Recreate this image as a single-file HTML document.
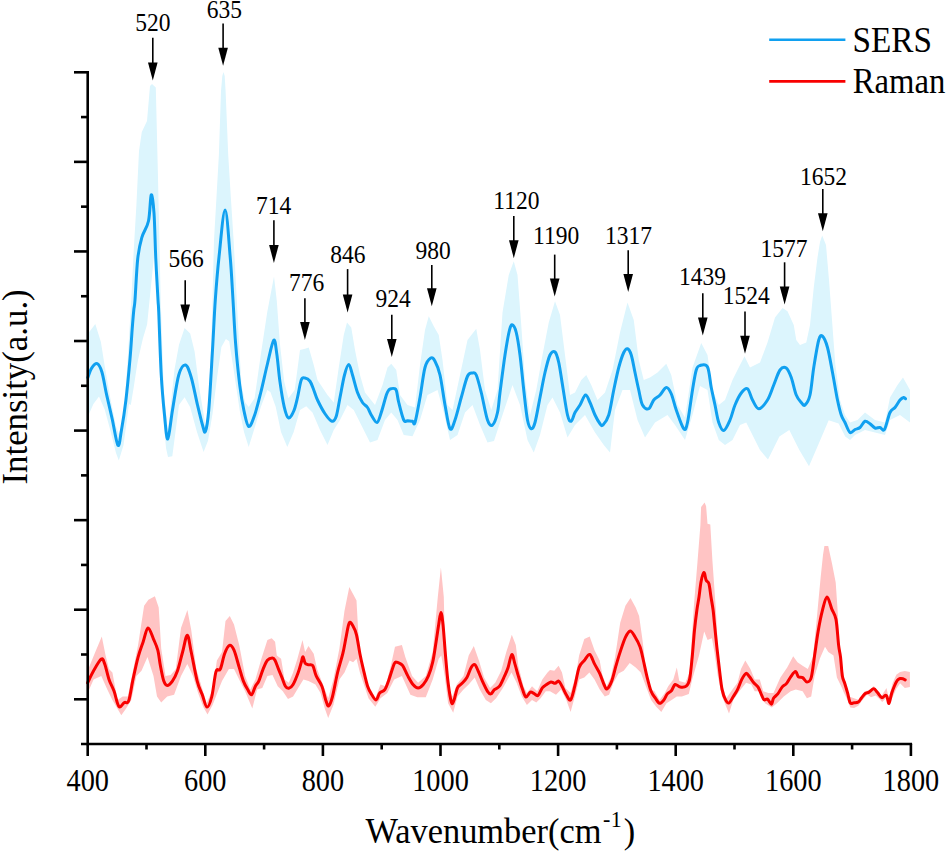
<!DOCTYPE html><html><head><meta charset="utf-8"><title>SERS vs Raman</title>
<style>html,body{margin:0;padding:0;background:#fff;width:948px;height:852px;overflow:hidden}svg{display:block}text{font-family:"Liberation Serif",serif;fill:#000}</style></head><body>
<svg width="948" height="852" viewBox="0 0 948 852">
<rect width="948" height="852" fill="#fff"/>
<path d="M87.7 334 L95.3 324 L100.9 342 L104.7 366 L110.3 398 L116 426.5 L118.8 434 L123.5 419 L127.5 362.5 L131.25 300 L133.75 250 L136.4 205 L139 151 L141.8 132 L147 121 L150 86 L152 84 L155.8 87.6 L158 178 L160.7 300 L163.75 390 L167.9 431.8 L174.5 369.3 L179 344.7 L184.6 328 L190.2 333.6 L194.6 351.4 L199.1 387 L203.6 414 L205.8 427.3 L209.1 391.6 L211 350 L212.5 300 L214 240 L216.5 196.8 L218.9 154.5 L221 91 L222.3 76 L223.5 72 L224.7 76 L225.6 91 L228.2 154.5 L230.8 196.8 L233.6 240 L236.8 300 L239 343 L241.5 385 L245 402 L248.7 407 L254.6 398.3 L260.9 354 L267.3 311.7 L274 276.5 L276.8 301 L279.9 343.4 L284.2 381.4 L288.4 398.3 L294.7 390 L300 350 L305 348.75 L308.75 347.5 L313.75 365 L317.5 380 L327.5 395 L333.75 402.5 L338.75 367.5 L343.75 335 L347 322.5 L351.25 327.5 L355 350 L360 375 L365 392.5 L375 405 L382.5 385 L387.5 367.5 L391.25 363.75 L396.25 370 L400 395 L407.5 405 L415 407.5 L420 365 L425 330 L428.75 316.25 L433.75 326.25 L438.75 335 L442.5 360 L447.5 405 L452.5 410 L460 375 L467.5 340 L476.25 328.75 L480 350 L485 390 L491.25 410 L497.5 390 L502.5 312.5 L508.75 275 L513.75 261.25 L517.5 275 L521.25 325 L525 380 L530 415 L536.25 390 L542.5 355 L548.75 322.5 L555 301.25 L560 315 L565 355 L570 395 L575 392.5 L581.25 380 L586.25 375 L591.25 385 L597.5 400 L605 392.5 L612.5 370 L620 332.5 L627.5 302.5 L633.75 320 L638.75 360 L643.75 380 L650 377.5 L657.5 372.5 L666.25 363.75 L671.25 375 L677.5 405 L685 417.5 L692.5 367.5 L701.25 343 L707.5 355 L712.5 390 L718.75 405 L725 400 L732.5 380 L740 365 L744.5 356.25 L750 367.5 L760 362.5 L767.5 342.5 L775 317.5 L782.5 308 L787.5 311.25 L793.75 325 L796.25 340 L800 345 L806.25 342.5 L810 325 L813.75 287.5 L817.5 257.5 L820 242 L822.2 235.5 L826 245 L829 280 L832 320 L835.3 364.3 L840 400 L845 415 L850 422.5 L857.5 420 L865 412.5 L875 420 L885 422.5 L890 397.5 L897.5 385 L903 377.5 L910 390 L910 422.5 L900 415 L890 420 L885 435 L875 432.5 L865 430 L855 435 L850 440 L845.2 436.6 L838.6 423.5 L828.7 420.2 L818.9 443.2 L809 466.2 L799.2 449.8 L789.3 430 L779.4 436.6 L768 459.6 L760 450 L752.5 435 L746.25 422.5 L740 425 L732.5 440 L725 445 L718.75 440 L712.5 422.5 L707.5 390 L700 386 L692.5 415 L685 440 L675 425 L667.5 415 L655 422.5 L645 437.5 L637.5 420 L630 390 L622.5 390 L615 410 L610 452.5 L603.75 445 L595 432.5 L585 415 L575 425 L567.5 437.5 L560 412.5 L552.5 397.5 L547.5 405 L540 435 L533.75 452.5 L527.5 440 L520 405 L512.5 385 L502.5 415 L494 441 L487.5 442.5 L480 425 L472.5 405 L465 412.5 L457.5 435 L450 440 L443.75 412.5 L437.5 390 L427.5 395 L420 420 L412.5 436.25 L403.75 435 L397.5 420 L391.25 412.5 L385 420 L377.5 440 L370 442.5 L361.25 425 L353.75 410 L347.5 405 L340 420 L333.75 430 L327.5 445 L320 430 L312.5 412.5 L306.25 406.25 L300 410 L293.7 432 L287.3 447 L281 432 L275.7 406.8 L270.4 392 L267.3 389.9 L260.9 406.8 L254.6 428 L248.7 447 L244 432 L239.8 411 L233.5 368.7 L229.2 341.3 L225.9 339 L221.4 347 L217 378 L212.5 414 L208 440.7 L203.6 451.9 L196.9 431.8 L190.2 407.2 L184.6 397.2 L179 405 L172.3 456.3 L168 457 L166 448 L164 425 L162 395 L160.5 365 L159 330 L157.8 300 L156.8 280 L155.8 259 L154.8 250 L152.8 268 L150 296 L147.1 324.5 L142.9 338.6 L138 360 L136.5 369 L133.6 388 L130.8 405 L129 404 L123.5 445.3 L118.8 460.4 L116 452.9 L110.3 430.3 L104.7 409.6 L99 396.5 L93.4 404 L87.7 417 Z" fill="#dcf5fd"/>
<path d="M87.6 670.8 L95.3 652 L101.8 636.5 L105.6 655.4 L109 669.1 L112.4 672.5 L117.5 699.9 L122.7 696.5 L127.8 696.5 L133 670.8 L138.1 645.1 L144.1 605.7 L148.4 599.7 L154.9 596.3 L158.7 607.4 L161.2 648.5 L165.5 675.9 L170.7 675.1 L175.8 669.1 L181 628 L187.4 610 L191.2 629.7 L196.3 669.1 L201.5 686.2 L206.6 703.3 L212.6 689.6 L216.9 660.5 L222 652 L225.5 621.1 L229.8 616 L234 624.5 L239.2 645.1 L245.1 675.9 L250.3 689.6 L255.4 679.4 L261.4 658.8 L267.4 640 L271.7 638.2 L275.1 641.7 L276.8 655.4 L281.1 658.8 L284.5 679.4 L288.8 682.8 L293.1 672.5 L297.4 658.8 L302.5 640 L305.1 652 L308.5 646 L313.7 653.7 L317.1 669.1 L322.2 682.8 L328.2 698.2 L333.4 679.4 L339.4 648.5 L344.5 610.8 L349.3 586.9 L356.5 600.6 L358.2 631.4 L360.8 657.1 L365 681.1 L370.2 691.3 L375.3 698.2 L380.5 684.5 L385.6 686.2 L390.8 665.7 L395 646.8 L401.9 645.1 L405.3 657.1 L412.1 675.9 L418.1 682.8 L425.8 675.9 L432.7 652 L437.8 597.1 L440.9 567.6 L443.8 597.1 L445 648.5 L448.1 686.2 L452.4 696.5 L456.7 684.5 L463.5 675.9 L468.7 655.4 L473.8 646 L478.9 660.5 L484.1 677.6 L490.1 687.9 L495.2 682.8 L501.2 670.8 L506.3 652 L511.8 634.8 L515.8 645.1 L518.3 665.7 L523.5 686.2 L526.9 693.1 L532 686.2 L537.2 691.3 L542.3 679.4 L547.5 672.5 L550 669.9 L554.3 670.8 L558.6 665.7 L562 672.5 L565.4 687.9 L570.6 693.1 L575.7 675.9 L579.1 655.4 L584.3 639.1 L589.7 636.5 L594.5 650.2 L599.7 660.5 L602.2 674.2 L606.5 686.2 L610.8 677.6 L615.1 657.1 L620.2 622.8 L625.4 605.7 L630.5 598 L635.7 607.4 L639.1 616 L642.5 640 L645.9 669.1 L651.1 689.6 L654.5 691.3 L659.6 699.9 L664.8 693.1 L668.2 686.2 L673.3 679.4 L676.8 667.4 L679.3 681.1 L685.3 682.8 L689.6 672.5 L693.9 605.7 L697.6 560.4 L700.4 525.2 L701.1 506.9 L704.6 502.4 L706.1 506.2 L707.5 523.8 L710.3 524.5 L712.4 560.4 L715.9 610 L717.5 640 L718.7 658.8 L721.3 682.8 L726.4 698.2 L732.4 689.6 L737.5 682.8 L741 669.1 L745.3 660.5 L750.4 669.1 L754.7 679.4 L759.8 679.4 L763.2 691.3 L768.4 693.1 L773.5 693.1 L780.4 677.6 L787.2 667.4 L793.2 656.2 L797.5 662.2 L802.6 665.7 L807.8 669.1 L812.9 657.1 L816.4 622.8 L818.5 600 L820.7 577 L823 555 L824.4 546 L828.2 546 L831.9 562.9 L835.7 582.6 L837.6 610 L839.5 648.5 L842 665.7 L844.7 681.3 L848.4 696.3 L854.1 698.2 L858.8 700.1 L864.4 691.6 L870 689.8 L873.8 686 L877.5 690.7 L881.3 696.3 L886.5 687.9 L888.8 698.2 L892.6 683.2 L896.3 674.7 L900.1 671.9 L904.8 671 L909.9 671.9 L909.9 687 L904.8 687.9 L900.1 683.2 L896.3 688.8 L892.6 697.3 L888.8 704.8 L886 698.2 L882.2 702 L880.4 700.1 L875.7 695.4 L871 697.3 L867.2 694.4 L862.5 700.1 L858.3 705.7 L854.1 708.1 L850.3 707.6 L847.5 700.1 L843.8 692.6 L842 687.9 L836.9 677.6 L833.5 655.4 L828.3 652 L825 646.8 L819.8 658.8 L814.6 675.9 L811.2 696.5 L806.9 698.2 L802.6 691.3 L795.8 689.6 L790.7 691.3 L783.8 696.5 L777 703.3 L771.8 707.6 L765 703.3 L759.8 691.3 L754.7 691.3 L751.3 684.5 L746.1 682.8 L739.3 691.3 L733.3 699.9 L729 713.6 L722.1 696.5 L717.8 675.9 L714.4 652 L711.9 638.2 L707.6 640 L704.2 631.4 L699 655.4 L692.2 679.4 L688.8 693.9 L681.9 696.5 L676.8 696.5 L671.6 699.9 L666.5 703.3 L661.3 711.9 L656.2 706.8 L651.1 699.9 L645.9 686.2 L640.8 672.5 L635.7 667.4 L629.7 663.1 L623.7 670.8 L618.5 673.4 L613.4 682.8 L609.1 694.8 L604.8 696.5 L599.7 689.6 L594.5 679.4 L589.4 672.5 L584.3 677.6 L579.1 679.4 L574.8 696.5 L570.6 711.9 L566.3 699.9 L561.1 689.6 L556 694.8 L550 691.3 L545.8 691.3 L540.6 698.2 L536.3 702.5 L532 699.9 L526.9 705.1 L521.8 696.5 L516.6 682.8 L511.5 672.5 L502.9 687.9 L496.1 698.2 L490.9 703.3 L485.8 699.9 L479.8 689.6 L474.7 677.6 L468.7 684.5 L463.5 689.6 L457.5 696.5 L453.2 712.8 L448.1 703.3 L444.7 675.9 L441.3 655.4 L438.7 658.8 L432.7 679.4 L425.8 697.3 L417.3 697.3 L410.4 694.8 L401.9 675.9 L394.2 679.4 L387.3 693 L380.5 698.2 L375.3 706.8 L368.5 698.2 L363.3 682.8 L359.9 672.5 L356.5 658.8 L353.1 662.2 L349.6 660.5 L344.5 672.5 L339.4 679.4 L333.4 705.1 L328.2 717.9 L324.8 708.5 L320.5 693 L315.4 684.5 L308.5 681.1 L303.4 679.4 L298.2 687.9 L293.1 696.5 L288 699.1 L282.8 691.3 L277.7 686.2 L272.5 675.1 L267.4 675.9 L262.3 687.9 L257.1 689.6 L252.3 708.5 L245.1 691.3 L239.2 679.4 L234 669.1 L228.9 669.1 L222 681.1 L218.6 689.6 L212.6 705.1 L207.5 714.5 L203.2 706.8 L198.1 693 L193 675.9 L187.3 663.9 L181 675.9 L174.1 694.8 L167.2 696.5 L161.2 702.5 L157 696.5 L153.5 675.9 L147.5 657.1 L141.5 670.8 L136.4 675.9 L131.3 699.9 L126.1 708.5 L121.3 715.3 L112.4 699.9 L107.3 689.6 L101.3 675.9 L93.6 679.4 L87.6 693 Z" fill="#ffc4c4"/>
<path d="M87.8 377.7 C88.42 376.13 89.93 370.65 91.5 368.3 C93.07 365.95 95.47 362.98 97.2 363.6 C98.93 364.22 100.33 366.83 101.9 372 C103.47 377.17 104.88 386.77 106.6 394.6 C108.32 402.43 110.32 410.55 112.2 419 C114.08 427.45 116.37 443.38 117.9 445.3 C119.43 447.22 120.07 438.02 121.4 430.5 C122.73 422.98 124.47 412.13 125.9 400.2 C127.33 388.27 128.95 370.8 130 358.9 C131.05 347 131.57 336.95 132.2 328.8 C132.83 320.65 133.33 314.8 133.8 310 C134.27 305.2 134.35 308.5 135 300 C135.65 291.5 136.57 269.4 137.7 259 C138.83 248.6 140 243.93 141.8 237.6 C143.6 231.27 146.93 228.12 148.5 221 C150.07 213.88 150.28 196.23 151.2 194.9 C152.12 193.57 153.23 202.32 154 213 C154.77 223.68 155.13 244.5 155.8 259 C156.47 273.5 157.51 291.08 158 300 C158.49 308.92 158.21 300 158.75 312.5 C159.29 325 160.29 357.92 161.25 375 C162.21 392.08 163.41 404.33 164.5 415 C165.59 425.67 166.47 439.83 167.8 439 C169.13 438.17 170.68 420.67 172.5 410 C174.32 399.33 176.58 382.5 178.75 375 C180.92 367.5 183.42 364.58 185.5 365 C187.58 365.42 189.25 370.83 191.25 377.5 C193.25 384.17 195.62 397.08 197.5 405 C199.38 412.92 201.18 420.58 202.5 425 C203.82 429.42 204.36 434 205.4 431.5 C206.44 429 207.57 423.58 208.75 410 C209.93 396.42 211.41 368.33 212.5 350 C213.59 331.67 214.22 315.5 215.3 300 C216.38 284.5 217.37 272.02 219 257 C220.63 241.98 223.23 209.9 225.1 209.9 C226.97 209.9 228.88 241.98 230.2 257 C231.52 272.02 232.1 285.6 233 300 C233.9 314.4 234.47 329.13 235.6 343.4 C236.73 357.67 238.4 374.33 239.8 385.6 C241.2 396.87 242.52 404.18 244 411 C245.48 417.82 246.93 425.8 248.7 426.5 C250.47 427.2 252.57 420.95 254.6 415.2 C256.63 409.45 258.78 400.45 260.9 392 C263.02 383.55 265.17 373.12 267.3 364.5 C269.43 355.88 272.12 342.05 273.7 340.3 C275.28 338.55 275.77 347.15 276.8 354 C277.83 360.85 278.67 372.6 279.9 381.4 C281.13 390.2 282.77 400.7 284.2 406.8 C285.63 412.9 286.91 417.3 288.5 418 C290.09 418.7 292.25 414.42 293.75 411 C295.25 407.58 296.25 402.67 297.5 397.5 C298.75 392.33 300 383.25 301.25 380 C302.5 376.75 303.54 377.79 305 378 C306.46 378.21 308.54 379.25 310 381.25 C311.46 383.25 312.5 386.88 313.75 390 C315 393.12 315.62 396.04 317.5 400 C319.38 403.96 322.58 410.21 325 413.75 C327.42 417.29 330.12 420.83 332 421.25 C333.88 421.67 334.92 420.21 336.25 416.25 C337.58 412.29 338.62 404.38 340 397.5 C341.38 390.62 343.04 380.5 344.5 375 C345.96 369.5 347.42 364.5 348.75 364.5 C350.08 364.5 351.04 370.33 352.5 375 C353.96 379.67 355.83 387.92 357.5 392.5 C359.17 397.08 360.83 400 362.5 402.5 C364.17 405 366.04 405.42 367.5 407.5 C368.96 409.58 369.67 412.5 371.25 415 C372.83 417.5 375.33 422.92 377 422.5 C378.67 422.08 379.67 417.17 381.25 412.5 C382.83 407.83 385.21 398.28 386.5 394.5 C387.79 390.72 388.17 390.78 389 389.8 C389.83 388.82 390.58 388.8 391.5 388.6 C392.42 388.4 393.67 388.2 394.5 388.6 C395.33 389 395.79 388.68 396.5 391 C397.21 393.32 397.54 397.67 398.75 402.5 C399.96 407.33 402.29 416.96 403.75 420 C405.21 423.04 406.04 420.54 407.5 420.75 C408.96 420.96 411.25 420.96 412.5 421.25 C413.75 421.54 413.75 426.46 415 422.5 C416.25 418.54 418.33 406.67 420 397.5 C421.67 388.33 423.21 374.08 425 367.5 C426.79 360.92 429.08 359.04 430.75 358 C432.42 356.96 433.46 358.42 435 361.25 C436.54 364.08 438.33 367.71 440 375 C441.67 382.29 443.33 396.04 445 405 C446.67 413.96 448.33 426.25 450 428.75 C451.67 431.25 453.12 425.21 455 420 C456.88 414.79 459.17 404.79 461.25 397.5 C463.33 390.21 465.62 380.33 467.5 376.25 C469.38 372.17 471.04 373.21 472.5 373 C473.96 372.79 474.79 371.75 476.25 375 C477.71 378.25 479.38 385 481.25 392.5 C483.12 400 485.62 414.58 487.5 420 C489.38 425.42 490.83 426.25 492.5 425 C494.17 423.75 496.25 417.92 497.5 412.5 C498.75 407.08 498.75 402.08 500 392.5 C501.25 382.92 503.42 365.42 505 355 C506.58 344.58 508.25 335 509.5 330 C510.75 325 511.38 324.58 512.5 325 C513.62 325.42 515 327.5 516.25 332.5 C517.5 337.5 518.75 345.42 520 355 C521.25 364.58 522.5 379.17 523.75 390 C525 400.83 526.25 413.54 527.5 420 C528.75 426.46 530 428.33 531.25 428.75 C532.5 429.17 533.54 427.71 535 422.5 C536.46 417.29 538.33 405.83 540 397.5 C541.67 389.17 543.33 379.58 545 372.5 C546.67 365.42 548.33 358.42 550 355 C551.67 351.58 553.54 350.75 555 352 C556.46 353.25 557.5 357 558.75 362.5 C560 368 561.04 376.25 562.5 385 C563.96 393.75 566.04 408.96 567.5 415 C568.96 421.04 570 421.67 571.25 421.25 C572.5 420.83 573.54 415.21 575 412.5 C576.46 409.79 578.25 407.92 580 405 C581.75 402.08 583.83 395.42 585.5 395 C587.17 394.58 588.42 399.17 590 402.5 C591.58 405.83 593.33 411.46 595 415 C596.67 418.54 598.67 422.08 600 423.75 C601.33 425.42 601.54 426.46 603 425 C604.46 423.54 606.96 420.83 608.75 415 C610.54 409.17 612.08 397.92 613.75 390 C615.42 382.08 617.08 373.75 618.75 367.5 C620.42 361.25 622.29 355.62 623.75 352.5 C625.21 349.38 626.25 348.33 627.5 348.75 C628.75 349.17 630 351.04 631.25 355 C632.5 358.96 633.75 366.67 635 372.5 C636.25 378.33 637.5 384.58 638.75 390 C640 395.42 640.83 401.88 642.5 405 C644.17 408.12 646.88 409.58 648.75 408.75 C650.62 407.92 651.88 402.29 653.75 400 C655.62 397.71 657.92 397.08 660 395 C662.08 392.92 664.38 387.71 666.25 387.5 C668.12 387.29 669.58 390 671.25 393.75 C672.92 397.5 674.17 404.17 676.25 410 C678.33 415.83 681.88 426.67 683.75 428.75 C685.62 430.83 686.04 428.96 687.5 422.5 C688.96 416.04 691.04 398.75 692.5 390 C693.96 381.25 695 374.08 696.25 370 C697.5 365.92 698.12 366 700 365.5 C701.88 365 705.62 363.33 707.5 367 C709.38 370.67 710 381.17 711.25 387.5 C712.5 393.83 713.75 399.17 715 405 C716.25 410.83 717.29 418.25 718.75 422.5 C720.21 426.75 721.88 430.92 723.75 430.5 C725.62 430.08 728.12 424.25 730 420 C731.88 415.75 733.12 409.5 735 405 C736.88 400.5 739.17 395.71 741.25 393 C743.33 390.29 745.62 387.58 747.5 388.75 C749.38 389.92 750.62 396.67 752.5 400 C754.38 403.33 756.25 408.75 758.75 408.75 C761.25 408.75 765 403.96 767.5 400 C770 396.04 771.67 390 773.75 385 C775.83 380 777.92 372.83 780 370 C782.08 367.17 784.38 366.75 786.25 368 C788.12 369.25 789.58 373 791.25 377.5 C792.92 382 794.58 390.83 796.25 395 C797.92 399.17 799.79 400.83 801.25 402.5 C802.71 404.17 803.54 406.25 805 405 C806.46 403.75 808.54 401.25 810 395 C811.46 388.75 812.29 376.67 813.75 367.5 C815.21 358.33 817.29 345.21 818.75 340 C820.21 334.79 821.04 335 822.5 336.25 C823.96 337.5 825.83 341.46 827.5 347.5 C829.17 353.54 830.83 363.75 832.5 372.5 C834.17 381.25 836.04 392.92 837.5 400 C838.96 407.08 840 411.25 841.25 415 C842.5 418.75 843.54 419.58 845 422.5 C846.46 425.42 848.33 431.33 850 432.5 C851.67 433.67 853.33 430.33 855 429.5 C856.67 428.67 858.33 428.88 860 427.5 C861.67 426.12 863.33 421.88 865 421.25 C866.67 420.62 868.33 422.62 870 423.75 C871.67 424.88 873.33 427.38 875 428 C876.67 428.62 878.42 427.25 880 427.5 C881.58 427.75 882.83 432 884.5 429.5 C886.17 427 888.25 416.17 890 412.5 C891.75 408.83 893.33 409.58 895 407.5 C896.67 405.42 898.54 401.67 900 400 C901.46 398.33 902.83 397.71 903.75 397.5 C904.67 397.29 905.21 398.54 905.5 398.75" fill="none" stroke="#10a0f0" stroke-width="3.0" stroke-linejoin="round" stroke-linecap="round"/>
<path d="M87.6 682.8 C88.6 680.8 91.32 674.75 93.6 670.8 C95.88 666.85 99.45 660.25 101.3 659.1 C103.15 657.95 103.42 660.52 104.7 663.9 C105.98 667.28 107.43 674.83 109 679.4 C110.57 683.97 112.45 686.8 114.1 691.3 C115.75 695.8 117.18 704.53 118.9 706.4 C120.62 708.27 122.77 703.43 124.4 702.5 C126.03 701.57 127.27 704.65 128.7 700.8 C130.13 696.95 131.43 686.68 133 679.4 C134.57 672.12 136.4 663.38 138.1 657.1 C139.8 650.82 141.55 646.55 143.2 641.7 C144.85 636.85 146.28 628.43 148 628 C149.72 627.57 151.87 635.4 153.5 639.1 C155.13 642.8 156.65 645.77 157.8 650.2 C158.95 654.63 159.4 660.55 160.4 665.7 C161.4 670.85 162.67 677.82 163.8 681.1 C164.93 684.38 165.77 685.4 167.2 685.4 C168.63 685.4 170.68 683.53 172.4 681.1 C174.12 678.67 175.8 675.65 177.5 670.8 C179.2 665.95 180.97 657.93 182.6 652 C184.23 646.07 185.87 635.2 187.3 635.2 C188.73 635.2 189.55 644.35 191.2 652 C192.85 659.65 195.35 673.97 197.2 681.1 C199.05 688.23 200.67 690.47 202.3 694.8 C203.93 699.13 205.42 706.82 207 707.1 C208.58 707.38 210.3 702.42 211.8 696.5 C213.3 690.58 214.58 676.17 216 671.6 C217.42 667.03 218.87 672.08 220.3 669.1 C221.73 666.12 223.08 657.65 224.6 653.7 C226.12 649.75 227.83 645.98 229.4 645.4 C230.97 644.82 232.37 646.53 234 650.2 C235.63 653.87 237.63 662.25 239.2 667.4 C240.77 672.55 241.98 677.4 243.4 681.1 C244.82 684.8 246.33 687.32 247.7 689.6 C249.07 691.88 250.32 695.37 251.6 694.8 C252.88 694.23 254.2 688.48 255.4 686.2 C256.6 683.92 257.52 683.95 258.8 681.1 C260.08 678.25 261.67 672.58 263.1 669.1 C264.53 665.62 265.83 662.07 267.4 660.2 C268.97 658.33 271.22 657.85 272.5 657.9 C273.78 657.95 274.1 658.63 275.1 660.5 C276.1 662.37 277.35 666.25 278.5 669.1 C279.65 671.95 280.85 674.75 282 677.6 C283.15 680.45 284.27 684.42 285.4 686.2 C286.53 687.98 287.52 688.58 288.8 688.3 C290.08 688.02 291.53 687.13 293.1 684.5 C294.67 681.87 296.83 676.22 298.2 672.5 C299.57 668.78 300.5 664.83 301.3 662.2 C302.1 659.57 302.37 656.55 303 656.7 C303.63 656.85 304.18 661.75 305.1 663.1 C306.02 664.45 307.22 664.37 308.5 664.8 C309.78 665.23 311.52 663.85 312.8 665.7 C314.08 667.55 314.68 672.48 316.2 675.9 C317.72 679.32 320.32 682.2 321.9 686.2 C323.48 690.2 324.57 696.62 325.7 699.9 C326.83 703.18 327.57 706.47 328.7 705.9 C329.83 705.33 331.02 702.07 332.5 696.5 C333.98 690.93 335.88 679.63 337.6 672.5 C339.32 665.37 341.37 659.7 342.8 653.7 C344.23 647.7 345.12 641.65 346.2 636.5 C347.28 631.35 348.15 624.5 349.3 622.8 C350.45 621.1 351.9 624.3 353.1 626.3 C354.3 628.3 355.37 630.23 356.5 634.8 C357.63 639.37 358.77 647.98 359.9 653.7 C361.03 659.42 362.02 663.68 363.3 669.1 C364.58 674.52 366.17 681.92 367.6 686.2 C369.03 690.48 370.47 692.52 371.9 694.8 C373.33 697.08 374.92 700.18 376.2 699.9 C377.48 699.62 378.17 694.82 379.6 693.1 C381.03 691.38 383.23 691.88 384.8 689.6 C386.37 687.32 387.43 683.68 389 679.4 C390.57 675.12 392.92 666.77 394.2 663.9 C395.48 661.03 396 662.4 396.7 662.2 C397.4 662 397.4 662.12 398.4 662.7 C399.4 663.28 401.13 663.5 402.7 665.7 C404.27 667.9 406.08 672.77 407.8 675.9 C409.52 679.03 411.28 682.5 413 684.5 C414.72 686.5 416.38 687.9 418.1 687.9 C419.82 687.9 421.58 686.5 423.3 684.5 C425.02 682.5 426.83 679.62 428.4 675.9 C429.97 672.18 431.42 667.9 432.7 662.2 C433.98 656.5 435.1 647.98 436.1 641.7 C437.1 635.42 437.9 629.37 438.7 624.5 C439.5 619.63 440.18 612.5 440.9 612.5 C441.62 612.5 442.23 617.35 443 624.5 C443.77 631.65 444.65 645.68 445.5 655.4 C446.35 665.12 447.1 674.95 448.1 682.8 C449.1 690.65 450.5 699.65 451.5 702.5 C452.5 705.35 453.1 702.33 454.1 699.9 C455.1 697.47 456.22 690.62 457.5 687.9 C458.78 685.18 460.23 685.32 461.8 683.6 C463.37 681.88 465.33 680.3 466.9 677.6 C468.47 674.9 469.9 669.58 471.2 667.4 C472.5 665.22 473.55 663.93 474.7 664.5 C475.85 665.07 476.82 668.03 478.1 670.8 C479.38 673.57 480.83 677.68 482.4 681.1 C483.97 684.52 486.08 689.17 487.5 691.3 C488.92 693.43 489.75 694.18 490.9 693.9 C492.05 693.62 492.97 690.88 494.4 689.6 C495.83 688.32 497.8 688.48 499.5 686.2 C501.2 683.92 503.17 679.03 504.6 675.9 C506.03 672.77 506.9 670.97 508.1 667.4 C509.3 663.83 510.67 655.08 511.8 654.5 C512.93 653.92 513.82 660.33 514.9 663.9 C515.98 667.47 517.02 671.62 518.3 675.9 C519.58 680.18 521.32 686.08 522.6 689.6 C523.88 693.12 524.72 696.57 526 697 C527.28 697.43 529 692.8 530.3 692.2 C531.6 691.6 532.52 692.83 533.8 693.4 C535.08 693.97 536.58 696.52 538 695.6 C539.42 694.68 540.87 689.75 542.3 687.9 C543.73 686.05 545.17 685.5 546.6 684.5 C548.03 683.5 549.48 682.1 550.9 681.9 C552.32 681.7 553.82 683.43 555.1 683.3 C556.38 683.17 557.45 680.62 558.6 681.1 C559.75 681.58 560.72 683.92 562 686.2 C563.28 688.48 564.87 692.52 566.3 694.8 C567.73 697.08 569.18 701.33 570.6 699.9 C572.02 698.47 573.38 691.62 574.8 686.2 C576.22 680.78 577.52 671.68 579.1 667.4 C580.68 663.12 582.53 662.65 584.3 660.5 C586.07 658.35 588 653.93 589.7 654.5 C591.4 655.07 592.83 660.75 594.5 663.9 C596.17 667.05 598.12 669.97 599.7 673.4 C601.28 676.83 602.78 681.93 604 684.5 C605.22 687.07 605.72 689.37 607 688.8 C608.28 688.23 610.2 684.95 611.7 681.1 C613.2 677.25 614.58 670.57 616 665.7 C617.42 660.83 618.63 656.62 620.2 651.9 C621.77 647.18 623.73 640.88 625.4 637.4 C627.07 633.92 628.63 631.15 630.2 631 C631.77 630.85 633.17 633.87 634.8 636.5 C636.43 639.13 638.57 642.8 640 646.8 C641.43 650.8 642.27 655.65 643.4 660.5 C644.53 665.35 645.52 670.77 646.8 675.9 C648.08 681.03 649.67 687.58 651.1 691.3 C652.53 695.02 653.98 696.2 655.4 698.2 C656.82 700.2 658.18 703.02 659.6 703.3 C661.02 703.58 662.62 701.47 663.9 699.9 C665.18 698.33 666.02 695.47 667.3 693.9 C668.58 692.33 670.3 692.07 671.6 690.5 C672.9 688.93 673.67 685.07 675.1 684.5 C676.53 683.93 678.35 686.82 680.2 687.1 C682.05 687.38 684.63 687.48 686.2 686.2 C687.77 684.92 688.6 684.25 689.6 679.4 C690.6 674.55 691.38 665.33 692.2 657.1 C693.02 648.87 693.72 637.85 694.5 630 C695.28 622.15 696.15 615.5 696.9 610 C697.65 604.5 698.3 601.75 699 597 C699.7 592.25 700.28 585.6 701.1 581.5 C701.92 577.4 703.07 572.63 703.9 572.4 C704.73 572.17 705.27 578.22 706.1 580.1 C706.93 581.98 708.08 580.88 708.9 583.7 C709.72 586.52 710.3 592.62 711 597 C711.7 601.38 712.53 605.7 713.1 610 C713.67 614.3 713.75 616.38 714.4 622.8 C715.05 629.22 716.13 640.5 717 648.5 C717.87 656.5 718.75 663.95 719.6 670.8 C720.45 677.65 721.1 684.75 722.1 689.6 C723.1 694.45 724.45 697.67 725.6 699.9 C726.75 702.13 727.72 703.57 729 703 C730.28 702.43 731.88 698.73 733.3 696.5 C734.72 694.27 736.08 692.45 737.5 689.6 C738.92 686.75 740.37 682.1 741.8 679.4 C743.23 676.7 744.82 673.83 746.1 673.4 C747.38 672.97 748.22 675.23 749.5 676.8 C750.78 678.37 752.37 681.08 753.8 682.8 C755.23 684.52 756.82 685.1 758.1 687.1 C759.38 689.1 760.5 692.67 761.5 694.8 C762.5 696.93 763.1 699.18 764.1 699.9 C765.1 700.62 766.27 698.38 767.5 699.1 C768.73 699.82 770.5 704.35 771.5 704.2 C772.5 704.05 772.45 699.92 773.5 698.2 C774.55 696.48 776.37 695.75 777.8 693.9 C779.23 692.05 780.67 688.82 782.1 687.1 C783.53 685.38 784.97 685.32 786.4 683.6 C787.83 681.88 789.18 678.8 790.7 676.8 C792.22 674.8 794.22 671.6 795.5 671.6 C796.78 671.6 797.22 675.8 798.4 676.8 C799.58 677.8 801.18 676.75 802.6 677.6 C804.02 678.45 805.47 681.9 806.9 681.9 C808.33 681.9 809.92 682.02 811.2 677.6 C812.48 673.18 813.45 663.1 814.6 655.4 C815.75 647.7 816.82 638.83 818.1 631.4 C819.38 623.97 820.82 616.53 822.3 610.8 C823.78 605.07 825.42 597.28 827 597 C828.58 596.72 830.3 605.37 831.8 609.1 C833.3 612.83 834.87 613.4 836 619.4 C837.13 625.4 837.85 638.85 838.6 645.1 C839.35 651.35 839.88 651.8 840.5 656.9 C841.12 662 841.6 671.32 842.3 675.7 C843 680.08 843.83 680.38 844.7 683.2 C845.57 686.02 846.57 689.32 847.5 692.6 C848.43 695.88 849.2 701.22 850.3 702.9 C851.4 704.58 852.77 702.85 854.1 702.7 C855.43 702.55 857.05 702.83 858.3 702 C859.55 701.17 860.43 699.12 861.6 697.7 C862.77 696.28 864.05 694.43 865.3 693.5 C866.55 692.57 867.68 692.88 869.1 692.1 C870.52 691.32 872.4 688.72 873.8 688.8 C875.2 688.88 876.17 691.12 877.5 692.6 C878.83 694.08 880.53 697.23 881.8 697.7 C883.07 698.17 884.25 695.63 885.1 695.4 C885.95 695.17 886.25 694.97 886.9 696.3 C887.55 697.63 888.22 703.87 889 703.4 C889.78 702.93 890.7 696.4 891.6 693.5 C892.5 690.6 893.45 688.18 894.4 686 C895.35 683.82 896.35 681.65 897.3 680.4 C898.25 679.15 899.17 678.78 900.1 678.5 C901.03 678.22 902.05 678.47 902.9 678.7 C903.75 678.93 904.82 679.7 905.2 679.9" fill="none" stroke="#f80000" stroke-width="3.0" stroke-linejoin="round" stroke-linecap="round"/>
<g stroke="#000" stroke-width="2.6" fill="none"><path d="M87.7 71 V745.3" /><path d="M81 744 H912.1" /><path d="M74 72.3 H87.7" /><path d="M81 117.08 H87.7" /><path d="M74 161.87 H87.7" /><path d="M81 206.66 H87.7" /><path d="M74 251.44 H87.7" /><path d="M81 296.23 H87.7" /><path d="M74 341.01 H87.7" /><path d="M81 385.79 H87.7" /><path d="M74 430.58 H87.7" /><path d="M81 475.37 H87.7" /><path d="M74 520.15 H87.7" /><path d="M81 564.93 H87.7" /><path d="M74 609.72 H87.7" /><path d="M81 654.5 H87.7" /><path d="M74 699.29 H87.7" /><path d="M87.7 744 V756" /><path d="M146.5 744 V749.5" /><path d="M205.3 744 V756" /><path d="M264.1 744 V749.5" /><path d="M322.9 744 V756" /><path d="M381.7 744 V749.5" /><path d="M440.5 744 V756" /><path d="M499.3 744 V749.5" /><path d="M558.1 744 V756" /><path d="M616.9 744 V749.5" /><path d="M675.7 744 V756" /><path d="M734.5 744 V749.5" /><path d="M793.3 744 V756" /><path d="M852.1 744 V749.5" /><path d="M910.9 744 V756" /></g>
<text transform="translate(87.7 790.8) scale(1 1.13)" text-anchor="middle" font-size="28.3">400</text>
<text transform="translate(205.3 790.8) scale(1 1.13)" text-anchor="middle" font-size="28.3">600</text>
<text transform="translate(322.9 790.8) scale(1 1.13)" text-anchor="middle" font-size="28.3">800</text>
<text transform="translate(440.5 790.8) scale(1 1.13)" text-anchor="middle" font-size="28.3">1000</text>
<text transform="translate(558.1 790.8) scale(1 1.13)" text-anchor="middle" font-size="28.3">1200</text>
<text transform="translate(675.7 790.8) scale(1 1.13)" text-anchor="middle" font-size="28.3">1400</text>
<text transform="translate(793.3 790.8) scale(1 1.13)" text-anchor="middle" font-size="28.3">1600</text>
<text transform="translate(910.9 790.8) scale(1 1.13)" text-anchor="middle" font-size="28.3">1800</text>
<text transform="translate(152.85 30.6) scale(1 1.04)" text-anchor="middle" font-size="23.5">520</text>
<path d="M152.8 37.7 V63.5" stroke="#000" stroke-width="1.6"/>
<path d="M148 62.5 L157.6 62.5 L152.8 80.5 Z" fill="#000"/>
<text transform="translate(224.35 17.7) scale(1 1.04)" text-anchor="middle" font-size="23.5">635</text>
<path d="M223.1 23.6 V48.7" stroke="#000" stroke-width="1.6"/>
<path d="M218.3 47.7 L227.9 47.7 L223.1 65.7 Z" fill="#000"/>
<text transform="translate(186.05 266.7) scale(1 1.04)" text-anchor="middle" font-size="23.5">566</text>
<path d="M185.2 280.3 V305.6" stroke="#000" stroke-width="1.6"/>
<path d="M180.4 304.6 L190 304.6 L185.2 322.6 Z" fill="#000"/>
<text transform="translate(273.65 213.9) scale(1 1.04)" text-anchor="middle" font-size="23.5">714</text>
<path d="M273.9 220.3 V246" stroke="#000" stroke-width="1.6"/>
<path d="M269.1 245 L278.7 245 L273.9 263 Z" fill="#000"/>
<text transform="translate(306.6 291.4) scale(1 1.04)" text-anchor="middle" font-size="23.5">776</text>
<path d="M304.9 298.3 V323.1" stroke="#000" stroke-width="1.6"/>
<path d="M300.1 322.1 L309.7 322.1 L304.9 340.1 Z" fill="#000"/>
<text transform="translate(347.85 263.3) scale(1 1.04)" text-anchor="middle" font-size="23.5">846</text>
<path d="M347.6 269.1 V295.5" stroke="#000" stroke-width="1.6"/>
<path d="M342.8 294.5 L352.4 294.5 L347.6 312.5 Z" fill="#000"/>
<text transform="translate(393.15 307.3) scale(1 1.04)" text-anchor="middle" font-size="23.5">924</text>
<path d="M391.8 314.8 V340" stroke="#000" stroke-width="1.6"/>
<path d="M387 339 L396.6 339 L391.8 357 Z" fill="#000"/>
<text transform="translate(433.15 259.4) scale(1 1.04)" text-anchor="middle" font-size="23.5">980</text>
<path d="M431.8 264.9 V289.3" stroke="#000" stroke-width="1.6"/>
<path d="M427 288.3 L436.6 288.3 L431.8 306.3 Z" fill="#000"/>
<text transform="translate(516.4 208.8) scale(1 1.04)" text-anchor="middle" font-size="23.5">1120</text>
<path d="M513.8 216 V241.2" stroke="#000" stroke-width="1.6"/>
<path d="M509 240.2 L518.6 240.2 L513.8 258.2 Z" fill="#000"/>
<text transform="translate(556.15 244.3) scale(1 1.04)" text-anchor="middle" font-size="23.5">1190</text>
<path d="M554.7 254.6 V279.4" stroke="#000" stroke-width="1.6"/>
<path d="M549.9 278.4 L559.5 278.4 L554.7 296.4 Z" fill="#000"/>
<text transform="translate(628.6 244.2) scale(1 1.04)" text-anchor="middle" font-size="23.5">1317</text>
<path d="M628.2 250.2 V274.9" stroke="#000" stroke-width="1.6"/>
<path d="M623.4 273.9 L633 273.9 L628.2 291.9 Z" fill="#000"/>
<text transform="translate(702.45 285) scale(1 1.04)" text-anchor="middle" font-size="23.5">1439</text>
<path d="M702.8 293.2 V318.4" stroke="#000" stroke-width="1.6"/>
<path d="M698 317.4 L707.6 317.4 L702.8 335.4 Z" fill="#000"/>
<text transform="translate(746.35 304) scale(1 1.04)" text-anchor="middle" font-size="23.5">1524</text>
<path d="M745 311.6 V336.8" stroke="#000" stroke-width="1.6"/>
<path d="M740.2 335.8 L749.8 335.8 L745 353.8 Z" fill="#000"/>
<text transform="translate(783.95 256.6) scale(1 1.04)" text-anchor="middle" font-size="23.5">1577</text>
<path d="M784.6 262.3 V287.5" stroke="#000" stroke-width="1.6"/>
<path d="M779.8 286.5 L789.4 286.5 L784.6 304.5 Z" fill="#000"/>
<text transform="translate(823.5 184.6) scale(1 1.04)" text-anchor="middle" font-size="23.5">1652</text>
<path d="M822.8 189 V214.2" stroke="#000" stroke-width="1.6"/>
<path d="M818 213.2 L827.6 213.2 L822.8 231.2 Z" fill="#000"/>
<path d="M769.2 39.7 H845.4" stroke="#10a0f0" stroke-width="2.6"/>
<path d="M769.2 81.4 H845.4" stroke="#f80000" stroke-width="2.6"/>
<text transform="translate(852.5 51.6) scale(1 1.07)" font-size="33.2">SERS</text>
<text transform="translate(852.8 93.4) scale(1 1.07)" font-size="32.7">Raman</text>
<text transform="translate(365.5 843.0) scale(1 1.05)" font-size="34.4">Wavenumber(cm<tspan font-size="22" dy="-15.5" dx="1.5">-</tspan><tspan font-size="22" dx="0.4">1</tspan><tspan dy="15.5" dx="2.0">)</tspan></text>
<text transform="translate(27.4 484.5) rotate(-90)" font-size="34.8">Intensity(a.u.)</text>
</svg></body></html>
